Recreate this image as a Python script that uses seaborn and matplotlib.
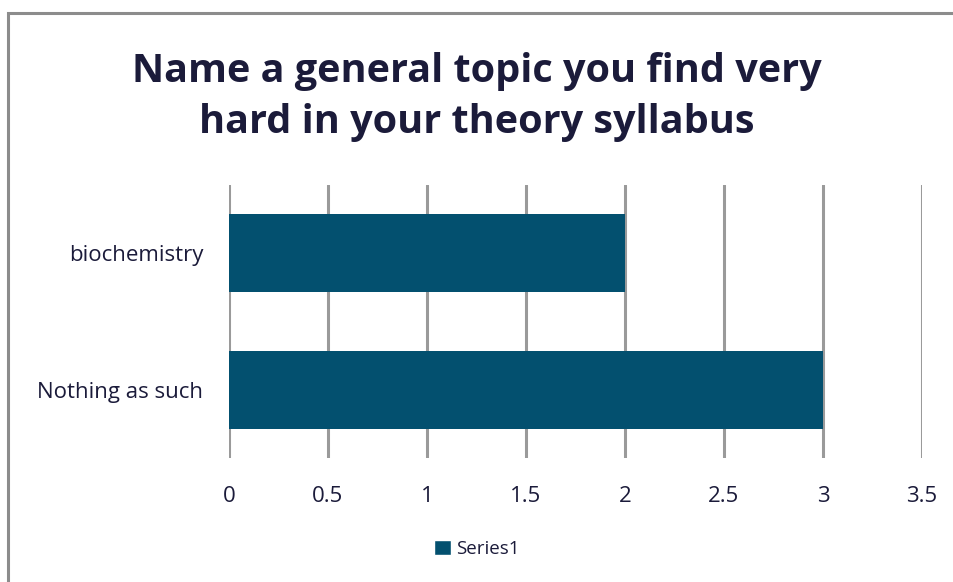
import matplotlib
matplotlib.use('Agg')
import matplotlib.pyplot as plt
from matplotlib.patches import Patch, Rectangle
import seaborn as sns
import pandas as pd

# Chart data
topics = ['biochemistry', 'Nothing as such']
counts = [2, 3]
x_ticks = [0, 0.5, 1, 1.5, 2, 2.5, 3, 3.5]

BAR_COLOR = '#03506F'
TEXT_COLOR = '#1B1B3A'
GRID_COLOR = '#9A9A9A'

sns.set_theme(style='white')
plt.rcParams['font.family'] = ['Open Sans', 'DejaVu Sans']

df = pd.DataFrame({'topic': topics, 'count': counts})

W, H = 954, 582
fig = plt.figure(figsize=(W / 100, H / 100), dpi=100)
fig.patch.set_facecolor('white')

# outer chart border (runs off the right and bottom edges)
fig.add_artist(Rectangle((8 / W, -0.05), 1.0, 1 - 13 / H + 0.05,
                         transform=fig.transFigure, fill=False,
                         edgecolor='#8C8C8C', linewidth=2.2))

ax = fig.add_axes([229 / W, 1 - 458 / H, (922 - 229) / W, (458 - 185) / H])
sns.barplot(data=df, x='count', y='topic', color=BAR_COLOR, width=0.575,
            orient='h', ax=ax, saturation=1, linewidth=0)

ax.set_xlim(0, 3.5)
ax.set_xticks(x_ticks)
ax.set_xticklabels([f'{t:g}' for t in x_ticks])
ax.set_xlabel('')
ax.set_ylabel('')
for s in ax.spines.values():
    s.set_visible(False)
ax.grid(axis='x', color=GRID_COLOR, linewidth=2.2)
ax.set_axisbelow(True)
ax.tick_params(axis='x', colors=TEXT_COLOR, labelsize=16, length=0, pad=20)
ax.tick_params(axis='y', colors=TEXT_COLOR, labelsize=16, length=0, pad=18.5)

fig.text(0.5, 1 - 97 / H, 'Name a general topic you find very\nhard in your theory syllabus',
         ha='center', va='center', fontsize=28.5, fontweight='bold',
         color=TEXT_COLOR, linespacing=1.42)

fig.legend(handles=[Patch(facecolor=BAR_COLOR, label='Series1')],
           loc='center', bbox_to_anchor=(0.5, 1 - 549 / H), frameon=False,
           fontsize=13.5, labelcolor=TEXT_COLOR, handlelength=0.9,
           handleheight=0.9, handletextpad=0.3)

fig.savefig('out.png', dpi=100, facecolor='white')
